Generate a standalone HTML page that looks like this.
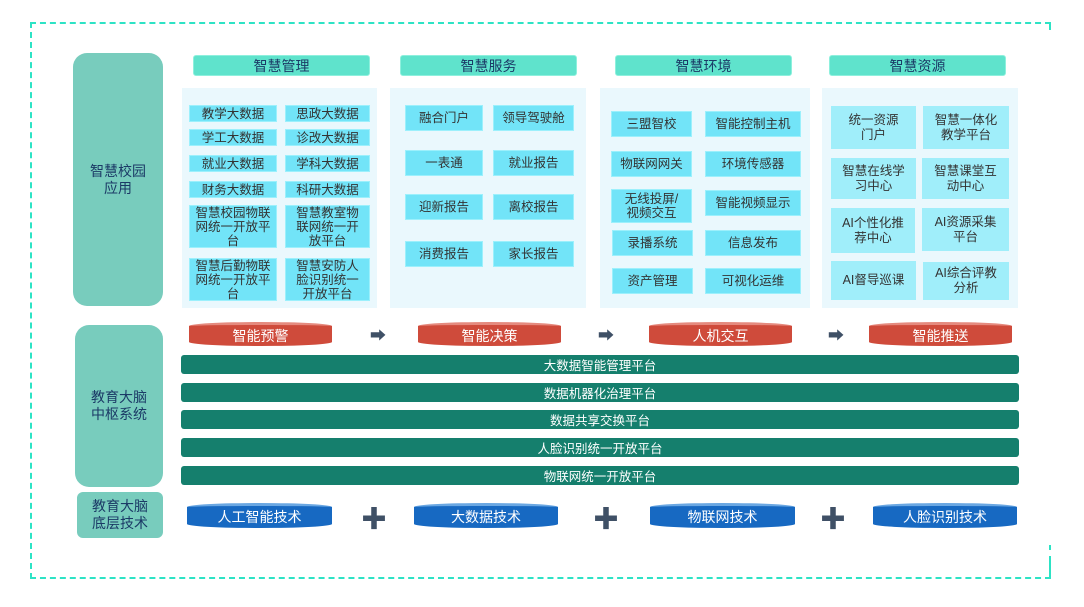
<!DOCTYPE html>
<html><head><meta charset="utf-8"><style>
*{margin:0;padding:0;box-sizing:border-box}
body{width:1084px;height:607px;background:#fff;position:relative;overflow:hidden;font-family:"Liberation Sans","Noto Sans CJK SC",sans-serif}
div{position:absolute}
.c{display:flex;align-items:center;justify-content:center;text-align:center}
.lab{background:#78ccbd;border-radius:14px;color:#1b3a66;font-size:14px;line-height:17px}
.hd{background:#5fe3cc;border-radius:3px;color:#1b3a66;font-size:14px;border:1px solid #8ef0dd}
.pn{background:#eaf8fd}
.cl{background:#72e4f8;color:#333;font-size:12.5px;line-height:14px;border:1px solid #9cf0fc}
.cl4{background:#a0eefa;color:#333;font-size:12.5px;line-height:15px}
.red{background:#cf4b3b;color:#fff;font-size:14px;border-radius:50%/4px;border-top:3px solid #e58a7e}
.gr{background:#157f6d;color:#fff;font-size:12.5px;border-radius:3px;left:181px;width:838px;height:19px;padding-left:0}
.bl{background:#1769c2;color:#fff;font-size:14px;border-radius:50%/4px;border-top:3px solid #6aa7e2}
.ar{color:#3f5066;font-size:16px}
.pl{color:#3f5066;font-size:26px;font-weight:bold}
</style></head><body>
<div style="left:30px;top:22px;width:1021px;height:557px;border:2px dashed #2de3c5;border-right:none"></div>
<div style="left:1049px;top:22px;width:2px;height:8px;background:#2de3c5"></div>
<div style="left:1049px;top:545px;width:2px;height:5px;background:#2de3c5"></div>
<div style="left:1049px;top:556px;width:2px;height:23px;background:#2de3c5"></div>

<div class="lab c" style="left:73px;top:53px;width:90px;height:253px">智慧校园<br>应用</div>
<div class="lab c" style="left:75px;top:325px;width:88px;height:162px">教育大脑<br>中枢系统</div>
<div class="lab c" style="left:77px;top:492px;width:86px;height:46px;border-radius:6px">教育大脑<br>底层技术</div>

<div class="hd c" style="left:193px;top:55px;width:177px;height:21px">智慧管理</div>
<div class="hd c" style="left:400px;top:55px;width:177px;height:21px">智慧服务</div>
<div class="hd c" style="left:615px;top:55px;width:177px;height:21px">智慧环境</div>
<div class="hd c" style="left:829px;top:55px;width:177px;height:21px">智慧资源</div>

<div class="pn" style="left:182px;top:88px;width:195px;height:220px"></div>
<div class="pn" style="left:390px;top:88px;width:196px;height:220px"></div>
<div class="pn" style="left:600px;top:88px;width:210px;height:220px"></div>
<div class="pn" style="left:822px;top:88px;width:196px;height:220px"></div>

<div class="cl c" style="left:189px;top:105px;width:88px;height:17px">教学大数据</div>
<div class="cl c" style="left:285px;top:105px;width:85px;height:17px">思政大数据</div>
<div class="cl c" style="left:189px;top:129px;width:88px;height:17px">学工大数据</div>
<div class="cl c" style="left:285px;top:129px;width:85px;height:17px">诊改大数据</div>
<div class="cl c" style="left:189px;top:155px;width:88px;height:17px">就业大数据</div>
<div class="cl c" style="left:285px;top:155px;width:85px;height:17px">学科大数据</div>
<div class="cl c" style="left:189px;top:181px;width:88px;height:17px">财务大数据</div>
<div class="cl c" style="left:285px;top:181px;width:85px;height:17px">科研大数据</div>
<div class="cl c" style="left:189px;top:205px;width:88px;height:43px">智慧校园物联<br>网统一开放平<br>台</div>
<div class="cl c" style="left:285px;top:205px;width:85px;height:43px">智慧教室物<br>联网统一开<br>放平台</div>
<div class="cl c" style="left:189px;top:258px;width:88px;height:43px">智慧后勤物联<br>网统一开放平<br>台</div>
<div class="cl c" style="left:285px;top:258px;width:85px;height:43px">智慧安防人<br>脸识别统一<br>开放平台</div>

<div class="cl c" style="left:405px;top:105px;width:78px;height:26px">融合门户</div>
<div class="cl c" style="left:493px;top:105px;width:81px;height:26px">领导驾驶舱</div>
<div class="cl c" style="left:405px;top:150px;width:78px;height:26px">一表通</div>
<div class="cl c" style="left:493px;top:150px;width:81px;height:26px">就业报告</div>
<div class="cl c" style="left:405px;top:194px;width:78px;height:26px">迎新报告</div>
<div class="cl c" style="left:493px;top:194px;width:81px;height:26px">离校报告</div>
<div class="cl c" style="left:405px;top:241px;width:78px;height:26px">消费报告</div>
<div class="cl c" style="left:493px;top:241px;width:81px;height:26px">家长报告</div>

<div class="cl c" style="left:611px;top:111px;width:81px;height:26px">三盟智校</div>
<div class="cl c" style="left:705px;top:111px;width:96px;height:26px">智能控制主机</div>
<div class="cl c" style="left:611px;top:151px;width:81px;height:26px">物联网网关</div>
<div class="cl c" style="left:705px;top:151px;width:96px;height:26px">环境传感器</div>
<div class="cl c" style="left:611px;top:189px;width:81px;height:34px">无线投屏/<br>视频交互</div>
<div class="cl c" style="left:705px;top:190px;width:96px;height:26px">智能视频显示</div>
<div class="cl c" style="left:612px;top:230px;width:81px;height:26px">录播系统</div>
<div class="cl c" style="left:705px;top:230px;width:96px;height:26px">信息发布</div>
<div class="cl c" style="left:612px;top:268px;width:81px;height:26px">资产管理</div>
<div class="cl c" style="left:705px;top:268px;width:96px;height:26px">可视化运维</div>

<div class="cl4 c" style="left:831px;top:106px;width:85px;height:43px">统一资源<br>门户</div>
<div class="cl4 c" style="left:923px;top:106px;width:86px;height:43px">智慧一体化<br>教学平台</div>
<div class="cl4 c" style="left:831px;top:158px;width:85px;height:41px">智慧在线学<br>习中心</div>
<div class="cl4 c" style="left:922px;top:158px;width:87px;height:41px">智慧课堂互<br>动中心</div>
<div class="cl4 c" style="left:831px;top:208px;width:84px;height:45px">AI个性化推<br>荐中心</div>
<div class="cl4 c" style="left:922px;top:208px;width:87px;height:43px">AI资源采集<br>平台</div>
<div class="cl4 c" style="left:831px;top:261px;width:85px;height:39px">AI督导巡课</div>
<div class="cl4 c" style="left:923px;top:262px;width:86px;height:38px">AI综合评教<br>分析</div>

<div class="red c" style="left:189px;top:322px;width:143px;height:24px">智能预警</div>
<div class="red c" style="left:418px;top:322px;width:143px;height:24px">智能决策</div>
<div class="red c" style="left:649px;top:322px;width:143px;height:24px">人机交互</div>
<div class="red c" style="left:869px;top:322px;width:143px;height:24px">智能推送</div>
<div class="ar c" style="left:368px;top:324px;width:20px;height:20px">➡</div>
<div class="ar c" style="left:596px;top:324px;width:20px;height:20px">➡</div>
<div class="ar c" style="left:826px;top:324px;width:20px;height:20px">➡</div>

<div class="gr c" style="top:355px">大数据智能管理平台</div>
<div class="gr c" style="top:383px">数据机器化治理平台</div>
<div class="gr c" style="top:410px">数据共享交换平台</div>
<div class="gr c" style="top:438px">人脸识别统一开放平台</div>
<div class="gr c" style="top:466px">物联网统一开放平台</div>

<div class="bl c" style="left:187px;top:503px;width:145px;height:25px">人工智能技术</div>
<div class="bl c" style="left:414px;top:503px;width:144px;height:25px">大数据技术</div>
<div class="bl c" style="left:650px;top:503px;width:145px;height:25px">物联网技术</div>
<div class="bl c" style="left:873px;top:503px;width:144px;height:25px">人脸识别技术</div>
<div class="pl c" style="left:362px;top:503px;width:24px;height:28px">✚</div>
<div class="pl c" style="left:594px;top:503px;width:24px;height:28px">✚</div>
<div class="pl c" style="left:821px;top:503px;width:24px;height:28px">✚</div>
</body></html>
